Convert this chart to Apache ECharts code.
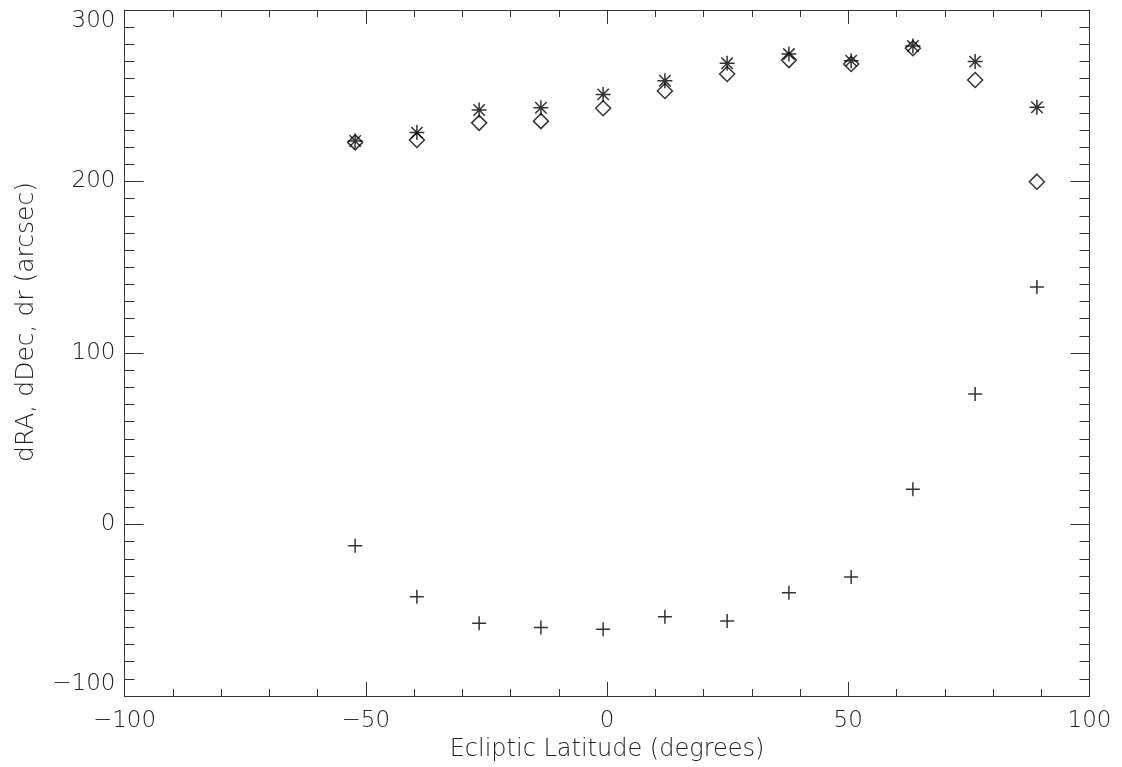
<!DOCTYPE html>
<html>
<head>
<meta charset="utf-8">
<script src="https://cdn.jsdelivr.net/npm/echarts@6/dist/echarts.min.js"></script>
<style>
html, body { margin: 0; padding: 0; background: #fff; }
#chart { width: 1122px; height: 767px; }
</style>
</head>
<body>
<div id="chart"></div>
<script>
// ecliptic latitude of each point (degrees)
var lat = [-52.2, -39.4, -26.5, -13.7, -0.8, 12.0, 24.9, 37.7, 50.6, 63.4, 76.3, 89.1];
// diamonds
var dRA = [222.8, 224.2, 234.2, 235.2, 242.7, 252.8, 262.7, 270.8, 268.5, 277.7, 259.2, 199.9];
// plus signs
var dDec = [-12.4, -42.1, -57.6, -60.0, -61.1, -53.8, -56.3, -39.8, -30.6, 20.5, 76.1, 138.5];
// asterisks
var dr = [223.6, 228.5, 241.7, 243.0, 250.8, 258.8, 268.9, 274.3, 270.4, 279.0, 269.9, 243.3];

var xTicks = [-100, -50, 0, 50, 100];
var yTicks = [-100, 0, 100, 200, 300];

function pairs(xs, ys){
    var out = [];
    for(var i=0;i<xs.length;i++){
        out.push([xs[i], ys[i]]);
    }
    return out;
}

function fmt(v){
    if(v < 0) return '\u2212' + Math.abs(v);
    return '' + v;
}

var textColor = '#222';
var lineColor = '#333';
var font = '"DejaVu Sans", sans-serif';

var plusPath = 'path://M0,5L10,5M5,0L5,10';
var diamondPath = 'path://M5,0L10,5L5,10L0,5Z';
var starPath = 'path://M0,5L10,5M5,0L5,10M1.2,1.2L8.8,8.8M8.8,1.2L1.2,8.8';

function xAx(pos, showLabel){
    return {
        type: 'value',
        position: pos,
        min: -100,
        max: 100,
        interval: 50,
        splitLine: { show: false },
        axisLine: { show: true, onZero: false, lineStyle: { color: lineColor, width: 1 } },
        axisTick: { show: true, inside: true, length: 14, lineStyle: { color: lineColor } },
        minorTick: { show: true, splitNumber: 5, length: 7, lineStyle: { color: lineColor } },
        axisLabel: {
            show: showLabel, margin: 14, color: textColor, fontSize: 23,
            fontFamily: font, fontWeight: 200,
            formatter: function(v){ return xTicks.indexOf(v) >= 0 ? fmt(v) : ''; }
        },
        name: showLabel ? 'Ecliptic Latitude (degrees)' : '',
        nameLocation: 'middle',
        nameGap: 36,
        nameTextStyle: { color: textColor, fontSize: 24, fontFamily: font, fontWeight: 200 }
    };
}

function yAx(pos, showLabel){
    return {
        type: 'value',
        position: pos,
        min: -100,
        max: 300,
        interval: 100,
        splitLine: { show: false },
        axisLine: { show: true, onZero: false, lineStyle: { color: lineColor, width: 1 } },
        axisTick: { show: true, inside: true, length: 19, lineStyle: { color: lineColor } },
        minorTick: { show: true, splitNumber: 10, length: 10, lineStyle: { color: lineColor } },
        axisLabel: {
            show: showLabel, margin: 9, color: textColor, fontSize: 23,
            fontFamily: font, fontWeight: 200,
            verticalAlignMaxLabel: 'top',
            verticalAlignMinLabel: 'bottom',
            formatter: function(v){ return yTicks.indexOf(v) >= 0 ? fmt(v) : ''; }
        },
        name: showLabel ? 'dRA, dDec, dr (arcsec)' : '',
        nameLocation: 'middle',
        nameGap: 86,
        nameTextStyle: {
            color: textColor, fontSize: 25, fontFamily: font, fontWeight: 200,
            padding: [0, 0, 0, 62]
        }
    };
}

function markStyle(){
    return { color: 'transparent', borderColor: '#000', borderWidth: 1.5 };
}

var chartDom = document.getElementById('chart');
var myChart = echarts.init(chartDom, null, { renderer: 'canvas' });
var option;

option = {
    animation: false,
    backgroundColor: '#fff',
    grid: { left: 124.5, right: 32.5, top: 10, bottom: 71 },
    xAxis: [xAx('bottom', true), xAx('top', false)],
    yAxis: [yAx('left', true), yAx('right', false)],
    series: [
        {
            name: 'dRA',
            type: 'scatter',
            data: pairs(lat, dRA),
            symbol: diamondPath,
            symbolSize: 15,
            itemStyle: markStyle()
        },
        {
            name: 'dDec',
            type: 'scatter',
            data: pairs(lat, dDec),
            symbol: plusPath,
            symbolSize: 14,
            itemStyle: markStyle()
        },
        {
            name: 'dr',
            type: 'scatter',
            data: pairs(lat, dr),
            symbol: starPath,
            symbolSize: 15,
            itemStyle: markStyle()
        }
    ]
};
option && myChart.setOption(option);
</script>
</body>
</html>
